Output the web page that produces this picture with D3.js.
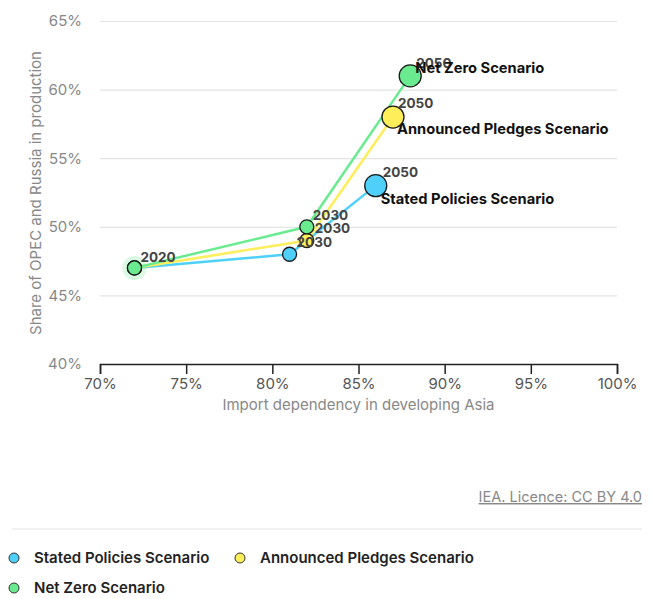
<!DOCTYPE html>
<html lang="en">
<head>
	<meta charset="UTF-8">
	<title>OPEC and Russia share vs import dependency</title>
	<script src="https://cdn.jsdelivr.net/npm/d3@7"></script>
	<style>
		body {
			margin: 0;
			background: #fff;
			font-family: "Inter", "Roboto", sans-serif;
		}
		svg text {
			font-family: "Inter", "Roboto", sans-serif;
		}
	</style>
</head>
<body>
<div id="viz"></div>

<script type="text/javascript">
	// scenarios, in drawing order
	const scenarios = ['Stated Policies Scenario', 'Announced Pledges Scenario', 'Net Zero Scenario'];
	const colors = ['#4fd0fb', '#fdee5a', '#6aeb90'];
	const years = ['2020', '2030', '2050'];

	// import dependency in developing Asia (%)
	const importSTEPS = [72, 81, 86];
	const importAPS = [72, 82, 87];
	const importNZE = [72, 82, 88];

	// share of OPEC and Russia in production (%)
	const shareSTEPS = [47, 48, 53];
	const shareAPS = [47, 49, 58];
	const shareNZE = [47, 50, 61];

	const xTicks = [70, 75, 80, 85, 90, 95, 100];
	const yTicks = [40, 45, 50, 55, 60, 65];

	const series = [
		{name: scenarios[0], color: colors[0], xs: importSTEPS, ys: shareSTEPS},
		{name: scenarios[1], color: colors[1], xs: importAPS, ys: shareAPS},
		{name: scenarios[2], color: colors[2], xs: importNZE, ys: shareNZE}
	];

	// label offsets for the end-of-line texts (year label / scenario label)
	const yearOffsets = [
		[[6, -11], [7, -12], [7, -13]],
		[[6, -11], [8, -12], [5, -14]],
		[[6, -11], [6, -12], [6, -13]]
	];
	const nameOffsets = [[5, 13], [4, 12], [5, -8]];

	const W = 653, H = 599;
	const margin = {top: 21, left: 100, right: 36, bottom: 235};

	const svg = d3.select('#viz').append('svg')
		.attr('width', W)
		.attr('height', H);

	const x = d3.scaleLinear().domain([70, 100]).range([margin.left, W - margin.right]);
	const y = d3.scaleLinear().domain([40, 65]).range([H - margin.bottom, margin.top]);

	// gridlines + y labels
	const gy = svg.append('g')
		.attr('transform', 'translate(' + margin.left + ',0)')
		.call(d3.axisLeft(y).tickValues(yTicks).tickSize(-(W - margin.right - margin.left)).tickPadding(18).tickFormat(d => d + '%'));
	gy.select('.domain').remove();
	gy.selectAll('.tick line').attr('stroke', '#e3e3e3').attr('stroke-width', 1.2);
	gy.selectAll('.tick text').attr('fill', '#888').attr('font-size', 15);

	// x axis
	const gx = svg.append('g')
		.attr('transform', 'translate(0,' + y(40) + ')')
		.call(d3.axisBottom(x).tickValues(xTicks).tickSize(10).tickSizeOuter(10).tickPadding(4).tickFormat(d => d + '%'));
	gx.select('.domain').attr('stroke', '#222').attr('stroke-width', 1.5);
	gx.selectAll('.tick line').attr('stroke', '#222').attr('stroke-width', 1.5);
	gx.selectAll('.tick text').attr('fill', '#555').attr('font-size', 15);

	// axis titles
	svg.append('text')
		.attr('x', (x(70) + x(100)) / 2)
		.attr('y', 410)
		.attr('text-anchor', 'middle')
		.attr('fill', '#888')
		.attr('font-size', 15)
		.text('Import dependency in developing Asia');

	svg.append('text')
		.attr('transform', 'translate(41,193) rotate(-90)')
		.attr('text-anchor', 'middle')
		.attr('fill', '#888')
		.attr('font-size', 15)
		.text('Share of OPEC and Russia in production');

	// lines
	const line = d3.line().x(d => x(d[0])).y(d => y(d[1]));
	series.forEach(s => {
		svg.append('path')
			.datum(d3.zip(s.xs, s.ys))
			.attr('fill', 'none')
			.attr('stroke', s.color)
			.attr('stroke-width', 2.5)
			.attr('d', line);
	});

	// halo on the shared 2020 point
	svg.append('circle')
		.attr('cx', x(importNZE[0]))
		.attr('cy', y(shareNZE[0]))
		.attr('r', 12)
		.attr('fill', colors[2])
		.attr('opacity', 0.25);

	// points
	series.forEach(s => {
		svg.selectAll(null)
			.data(d3.zip(s.xs, s.ys))
			.enter().append('circle')
			.attr('cx', d => x(d[0]))
			.attr('cy', d => y(d[1]))
			.attr('r', (d, i) => i === 2 ? 11 : 7)
			.attr('fill', s.color)
			.attr('stroke', '#1a1a1a')
			.attr('stroke-width', 1.3);
	});

	// year labels
	series.forEach((s, si) => {
		years.forEach((yr, i) => {
			if (i === 0 && si < 2) return;
			const off = yearOffsets[si][i];
			svg.append('text')
				.attr('x', x(s.xs[i]) + off[0])
				.attr('y', y(s.ys[i]) + off[1])
				.attr('dy', '0.35em')
				.attr('fill', '#444')
				.attr('font-size', 13.5)
				.attr('font-weight', 700)
				.text(yr);
		});
	});

	// scenario labels at the 2050 point
	series.forEach((s, si) => {
		const off = nameOffsets[si];
		svg.append('text')
			.attr('x', x(s.xs[2]) + off[0])
			.attr('y', y(s.ys[2]) + off[1])
			.attr('dy', '0.35em')
			.attr('fill', '#111')
			.attr('font-size', 14.7)
			.attr('font-weight', 700)
			.text(s.name);
	});

	// credit
	svg.append('text')
		.attr('x', 642)
		.attr('y', 502)
		.attr('text-anchor', 'end')
		.attr('fill', '#888')
		.attr('font-size', 14.5)
		.attr('text-decoration', 'underline')
		.text('IEA. Licence: CC BY 4.0');

	svg.append('line')
		.attr('x1', 12).attr('x2', 642)
		.attr('y1', 529).attr('y2', 529)
		.attr('stroke', '#e3e3e3')
		.attr('stroke-width', 1.2);

	// legend
	const legendPos = [[14, 558], [240, 558], [14, 588]];
	series.forEach((s, si) => {
		const g = svg.append('g').attr('transform', 'translate(' + legendPos[si][0] + ',' + legendPos[si][1] + ')');
		g.append('circle')
			.attr('r', 5)
			.attr('fill', s.color)
			.attr('stroke', '#333')
			.attr('stroke-width', 1);
		g.append('text')
			.attr('x', 20)
			.attr('dy', '0.35em')
			.attr('fill', '#222')
			.attr('font-size', 15)
			.attr('font-weight', 600)
			.text(s.name);
	});
</script>
</body>
</html>
